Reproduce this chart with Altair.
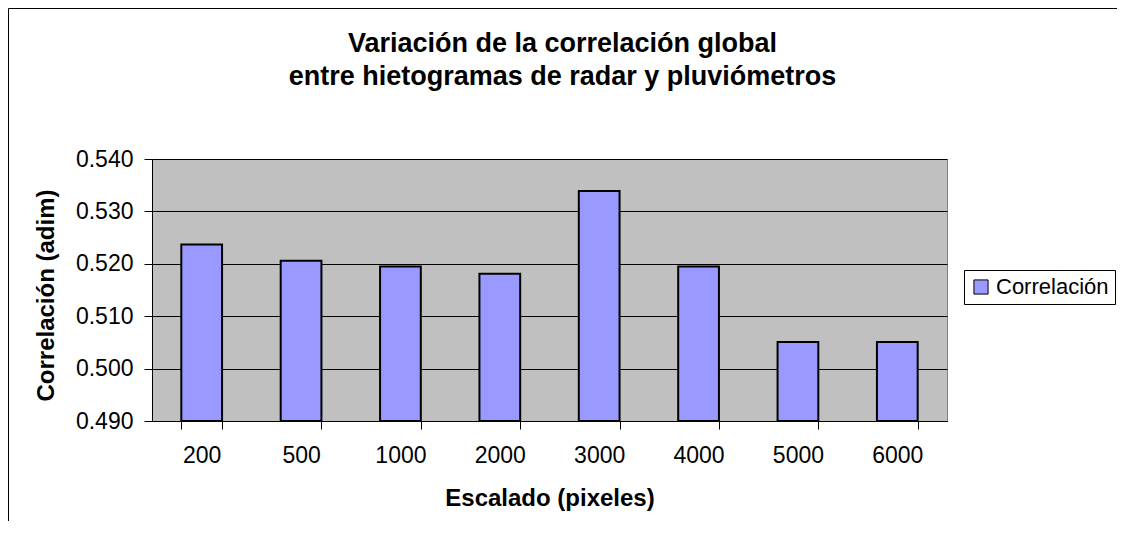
import altair as alt
import pandas as pd

categories = ["200", "500", "1000", "2000", "3000", "4000", "5000", "6000"]
values = [0.5237, 0.5206, 0.5195, 0.5181, 0.5339, 0.5195, 0.5051, 0.5051]
series = ["Correlación"] * len(categories)
y_ticks = [0.49, 0.50, 0.51, 0.52, 0.53, 0.54]

FONT = "Liberation Sans, Arial, Helvetica, sans-serif"

df = pd.DataFrame({"escalado": categories, "corr": values, "serie": series})

bars = alt.Chart(df).mark_bar(stroke="black", strokeWidth=2).encode(
    x=alt.X(
        "escalado:N",
        sort=categories,
        scale=alt.Scale(paddingInner=0.59, paddingOuter=0.295),
        axis=alt.Axis(
            title="Escalado (pixeles)",
            labelAngle=0,
            tickBand="extent",
            tickSize=8,
            tickColor="black",
            domainColor="black",
            labelFontSize=23,
            labelFont=FONT,
            labelColor="black",
            labelPadding=15,
            grid=False,
            titleFont=FONT,
            titleFontSize=24,
            titleFontWeight="bold",
            titleColor="black",
            titleBaseline="alphabetic",
            titleY=84,
        ),
    ),
    y=alt.Y(
        "corr:Q",
        scale=alt.Scale(domain=[0.49, 0.54], zero=False, nice=False, clamp=True),
        axis=alt.Axis(
            title="Correlación (adim)",
            values=y_ticks,
            format=".3f",
            tickSize=8,
            tickColor="black",
            domainColor="black",
            gridColor="black",
            gridWidth=1,
            labelFontSize=23,
            labelFont=FONT,
            labelColor="black",
            labelPadding=11,
            titleFont=FONT,
            titleFontSize=24,
            titleFontWeight="bold",
            titleColor="black",
            titleAngle=270,
            titleBaseline="middle",
            titleAlign="center",
            titleX=-106,
            titleY=136,
        ),
    ),
    color=alt.Color(
        "serie:N",
        scale=alt.Scale(range=["#9999FF"]),
        legend=alt.Legend(
            title=None,
            orient="none",
            legendX=812,
            legendY=111,
            padding=6,
            strokeColor="black",
            fillColor="white",
            symbolType="square",
            symbolSize=200,
            symbolStrokeColor="black",
            symbolStrokeWidth=1,
            symbolOpacity=1,
            labelFontSize=22,
            labelFont=FONT,
            labelColor="black",
            labelOffset=4,
        ),
    ),
)

frame_df = pd.DataFrame({"k": [0]})
top_line = alt.Chart(frame_df).mark_rule(color="black", strokeWidth=1).encode(
    x=alt.value(-143.5), x2=alt.value(1000), y=alt.value(-150.5)
)
left_line = alt.Chart(frame_df).mark_rule(color="black", strokeWidth=1).encode(
    x=alt.value(-143.5), y=alt.value(-150.5), y2=alt.value(400)
)

chart = (
    alt.layer(bars, top_line, left_line)
    .properties(
        width=795,
        height=262,
        autosize=alt.AutoSizeParams(type="none"),
        padding={"left": 144, "top": 151, "right": 170, "bottom": 100},
        title=alt.TitleParams(
            text=["Variación de la correlación global", "entre hietogramas de radar y pluviómetros"],
            font=FONT,
            fontSize=27,
            fontWeight="bold",
            color="black",
            lineHeight=33,
            anchor="middle",
            baseline="alphabetic",
            dx=13,
            dy=104,
            offset=0,
        ),
        background="white",
    )
    .configure_view(fill="#C0C0C0", stroke="#808080", strokeWidth=1)
)

chart.save("out.html", embed_options={"renderer": "svg", "actions": False})
